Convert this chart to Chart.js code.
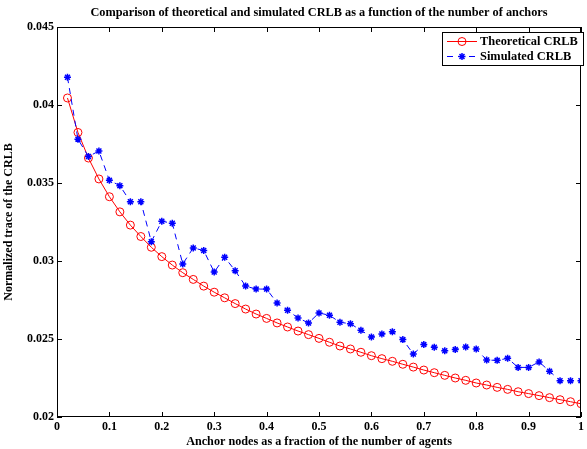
<!DOCTYPE html>
<html>
<head>
<meta charset="utf-8">
<script src="https://cdn.jsdelivr.net/npm/chart.js@4.4.0/dist/chart.umd.min.js"></script>
<style>
  html, body { margin: 0; padding: 0; background: #fff; }
  #wrap { width: 587px; height: 449px; }
</style>
</head>
<body>
<div id="wrap"><canvas id="crlbChart" width="587" height="449"></canvas></div>
<script>
// ===== CRLB comparison chart =====

const anchorFraction = [
  0.02, 0.04, 0.06, 0.08, 0.10, 0.12, 0.14, 0.16, 0.18, 0.20,
  0.22, 0.24, 0.26, 0.28, 0.30, 0.32, 0.34, 0.36, 0.38, 0.40,
  0.42, 0.44, 0.46, 0.48, 0.50, 0.52, 0.54, 0.56, 0.58, 0.60,
  0.62, 0.64, 0.66, 0.68, 0.70, 0.72, 0.74, 0.76, 0.78, 0.80,
  0.82, 0.84, 0.86, 0.88, 0.90, 0.92, 0.94, 0.96, 0.98, 1.00
];

const theoreticalCrlb = [
  0.04045, 0.03824, 0.03660, 0.03526, 0.03412, 0.03315, 0.03230, 0.03157, 0.03088, 0.03028,
  0.02974, 0.02925, 0.02882, 0.02839, 0.02800, 0.02764, 0.02727, 0.02692, 0.02660, 0.02632,
  0.02603, 0.02577, 0.02551, 0.02528, 0.02504, 0.02479, 0.02455, 0.02436, 0.02415, 0.02393,
  0.02374, 0.02357, 0.02338, 0.02320, 0.02301, 0.02284, 0.02267, 0.02250, 0.02235, 0.02218,
  0.02205, 0.02190, 0.02177, 0.02162, 0.02150, 0.02137, 0.02124, 0.02111, 0.02098, 0.02085
];

const simulatedCrlb = [
  0.04178, 0.03781, 0.03670, 0.03705, 0.03517, 0.03483, 0.03380, 0.03380, 0.03124, 0.03255,
  0.03242, 0.02981, 0.03084, 0.03067, 0.02929, 0.03024, 0.02938, 0.02839, 0.02820, 0.02820,
  0.02731, 0.02684, 0.02635, 0.02603, 0.02667, 0.02652, 0.02607, 0.02598, 0.02556, 0.02513,
  0.02532, 0.02547, 0.02496, 0.02404, 0.02464, 0.02447, 0.02425, 0.02432, 0.02449, 0.02436,
  0.02365, 0.02363, 0.02376, 0.02318, 0.02318, 0.02353, 0.02293, 0.02233, 0.02233, 0.02233
];

const seriesLabels = ['Theoretical CRLB', 'Simulated CRLB'];
const chartTitle = 'Comparison of theoretical and simulated CRLB as a function of the number of anchors';
const xAxisTitle = 'Anchor nodes as a fraction of the number of agents';
const yAxisTitle = 'Normalized trace of the CRLB';

const serif = "'Liberation Serif', 'Times New Roman', serif";
const red = '#ff0000';
const blue = '#0000ff';

function toPoints(ys) {
  return anchorFraction.map((x, i) => ({ x: x, y: ys[i] }));
}

function fmt(v) {
  return String(parseFloat(v.toFixed(4)));
}

// MATLAB-like box, inward ticks, title and legend
const matlabFrame = {
  id: 'matlabFrame',
  afterDraw(chart) {
    const { ctx, chartArea: a, scales } = chart;
    ctx.save();
    ctx.strokeStyle = '#000';
    ctx.lineWidth = 1;
    ctx.strokeRect(a.left + 0.5, a.top + 0.5, a.right - a.left - 1, a.bottom - a.top - 1);

    const tl = 5;
    ctx.beginPath();
    scales.x.ticks.forEach(t => {
      const px = Math.round(scales.x.getPixelForValue(t.value)) + 0.5;
      ctx.moveTo(px, a.bottom); ctx.lineTo(px, a.bottom - tl);
      ctx.moveTo(px, a.top); ctx.lineTo(px, a.top + tl);
    });
    scales.y.ticks.forEach(t => {
      const py = Math.round(scales.y.getPixelForValue(t.value)) + 0.5;
      ctx.moveTo(a.left, py); ctx.lineTo(a.left + tl, py);
      ctx.moveTo(a.right, py); ctx.lineTo(a.right - tl, py);
    });
    ctx.stroke();

    // title
    ctx.fillStyle = '#000';
    ctx.font = 'bold 12.3px ' + serif;
    ctx.textAlign = 'center';
    ctx.textBaseline = 'middle';
    ctx.fillText(chartTitle, (a.left + a.right) / 2, 13);

    // legend
    const bx = 442, by = 32, bw = 141, bh = 33;
    ctx.fillStyle = '#fff';
    ctx.fillRect(bx, by, bw, bh);
    ctx.strokeStyle = '#000';
    ctx.lineWidth = 1;
    ctx.strokeRect(bx + 0.5, by + 0.5, bw, bh);
    ctx.font = 'bold 12.4px ' + serif;
    ctx.textAlign = 'left';
    chart.data.datasets.forEach((ds, i) => {
      const cy = by + 9 + i * 15;
      ctx.save();
      ctx.strokeStyle = ds.borderColor;
      ctx.lineWidth = 1;
      ctx.setLineDash(ds.borderDash || []);
      ctx.beginPath();
      ctx.moveTo(bx + 5, cy + 0.5);
      ctx.lineTo(bx + 35, cy + 0.5);
      ctx.stroke();
      ctx.restore();
      ctx.save();
      ctx.strokeStyle = ds.pointBorderColor;
      ctx.fillStyle = ds.pointBackgroundColor;
      ctx.lineWidth = ds.pointBorderWidth;
      Chart.helpers.drawPoint(ctx, {
        pointStyle: ds.pointStyle,
        radius: ds.pointRadius,
        borderWidth: ds.pointBorderWidth
      }, bx + 20, cy + 0.5);
      ctx.restore();
      ctx.fillStyle = '#000';
      ctx.fillText(ds.label, bx + 38, cy + 1);
    });
    ctx.restore();
  }
};

const ctx = document.getElementById('crlbChart').getContext('2d');

new Chart(ctx, {
  type: 'line',
  data: {
    datasets: [
      {
        label: seriesLabels[0],
        data: toPoints(theoreticalCrlb),
        borderColor: red,
        backgroundColor: 'transparent',
        borderWidth: 1,
        pointStyle: 'circle',
        pointRadius: 4,
        pointBorderWidth: 1,
        pointBorderColor: red,
        pointBackgroundColor: 'transparent',
        tension: 0,
        fill: false,
        order: 2
      },
      {
        label: seriesLabels[1],
        data: toPoints(simulatedCrlb),
        borderColor: blue,
        backgroundColor: 'transparent',
        borderWidth: 1,
        borderDash: [6, 5],
        pointStyle: 'star',
        pointRadius: 3.5,
        pointBorderWidth: 1.5,
        pointBorderColor: blue,
        pointBackgroundColor: blue,
        tension: 0,
        fill: false,
        order: 1
      }
    ]
  },
  options: {
    responsive: false,
    devicePixelRatio: 1,
    animation: false,
    layout: { padding: { top: 27, right: 1, left: 0, bottom: 0 } },
    plugins: {
      legend: { display: false },
      tooltip: { enabled: false },
      title: { display: false }
    },
    scales: {
      x: {
        type: 'linear',
        min: 0,
        max: 1,
        grid: { display: false, drawTicks: false },
        border: { display: false },
        ticks: {
          stepSize: 0.1,
          color: '#000',
          padding: 3,
          maxRotation: 0,
          font: { family: serif, size: 12, weight: 'bold' },
          callback: v => fmt(v)
        },
        title: {
          display: true,
          text: xAxisTitle,
          color: '#000',
          padding: { top: 0, bottom: 0 },
          font: { family: serif, size: 12.2, weight: 'bold' }
        },
        afterFit: s => { s.height = 32; }
      },
      y: {
        type: 'linear',
        min: 0.02,
        max: 0.045,
        grid: { display: false, drawTicks: false },
        border: { display: false },
        ticks: {
          stepSize: 0.005,
          color: '#000',
          padding: 3,
          font: { family: serif, size: 12, weight: 'bold' },
          callback: v => fmt(v)
        },
        title: {
          display: true,
          text: yAxisTitle,
          color: '#000',
          padding: { top: 2, bottom: 0 },
          font: { family: serif, size: 12, weight: 'bold' }
        },
        afterFit: s => { s.width = 57; }
      }
    }
  },
  plugins: [matlabFrame]
});
</script>
</body>
</html>
